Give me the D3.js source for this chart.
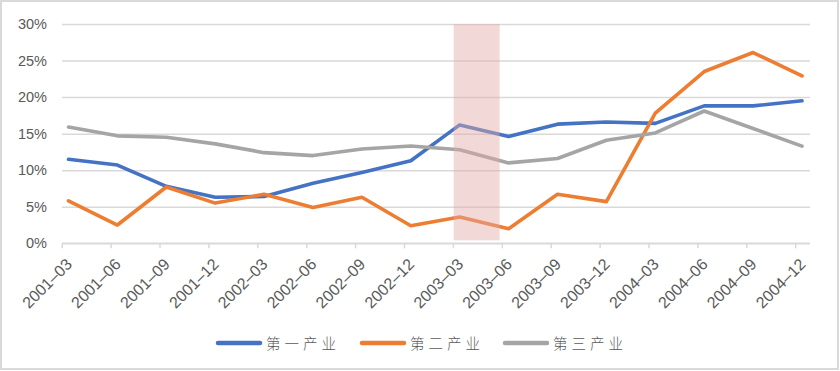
<!DOCTYPE html>
<html><head><meta charset="utf-8">
<script src="https://cdn.jsdelivr.net/npm/d3@7"></script>
<style>html,body{margin:0;padding:0;background:#fff;}svg{display:block;}</style>
</head><body>
<svg id="c" width="840" height="371"></svg>
<script>
const categories = ["2001–03","2001–06","2001–09","2001–12","2002–03","2002–06","2002–09","2002–12","2003–03","2003–06","2003–09","2003–12","2004–03","2004–06","2004–09","2004–12"];
const seriesNames = ["第一产业","第二产业","第三产业"];
const primary   = [11.5,10.7,7.8,6.3,6.4,8.2,9.7,11.3,16.2,14.6,16.3,16.6,16.4,18.8,18.8,19.5];
const secondary = [5.8,2.5,7.7,5.5,6.7,4.9,6.3,2.4,3.6,2.0,6.7,5.7,17.8,23.5,26.1,22.9];
const tertiary  = [15.9,14.7,14.5,13.6,12.4,12.0,12.9,13.3,12.8,11.0,11.6,14.1,15.1,18.1,15.7,13.3];
const yTicks = [0,5,10,15,20,25,30];
const highlight = ["2003–03","2003–06"];
const colors = ["#4472c4","#ed7d31","#a5a5a5"];

const svg = d3.select("#c");
// outer frame
svg.append("rect").attr("x",1).attr("y",1).attr("width",837).attr("height",368)
  .attr("fill","#fff").attr("stroke","#d9d9d9").attr("stroke-width",2);

const x = d3.scalePoint().domain(categories).range([68.5, 802]);
const y = d3.scaleLinear().domain([0,30]).range([243.3, 24]);
const tickOff = -6.8;

// gridlines
const yAxis = d3.axisLeft(y).tickValues(yTicks).tickFormat(d => d + "%").tickSize(-(810-62)).tickPadding(14);
const gy = svg.append("g").attr("transform","translate(62,0)").call(yAxis);
gy.select(".domain").remove();
gy.selectAll(".tick line").attr("stroke","#d9d9d9").attr("stroke-width",1.5);
gy.selectAll(".tick text").attr("fill","#595959").style("font-family","Liberation Sans, Arial, sans-serif").style("font-size","14.5px").attr("x",-15);

// x axis
const gx = svg.append("g").attr("transform","translate(0," + y(0) + ")");
gx.append("line").attr("x1",62).attr("x2",810).attr("y1",0).attr("y2",0).attr("stroke","#d9d9d9").attr("stroke-width",1.5);
const xAxis = d3.axisBottom(x).tickSize(5).tickSizeOuter(0).tickPadding(6);
gx.call(xAxis);
gx.select(".domain").remove();
gx.selectAll(".tick line").attr("stroke","#d9d9d9").attr("stroke-width",1.5).attr("transform","translate(" + tickOff + ",0)");
gx.selectAll(".tick text")
  .attr("fill","#595959").style("font-family","Liberation Sans, Arial, sans-serif").style("font-size","16px")
  .attr("text-anchor","end").attr("dy",null).attr("y",0)
  .attr("transform","translate(4,22) rotate(-45)");

// lines
const data = [primary, secondary, tertiary];
const line = d3.line().x((d,i) => x(categories[i])).y(d => y(d));
data.forEach((s,k) => {
  svg.append("path").datum(s).attr("d", line).attr("fill","none")
    .attr("stroke", colors[k]).attr("stroke-width",3.6).attr("stroke-linejoin","round").attr("stroke-linecap","round");
});

// highlight band (drawn over lines, semi-transparent)
svg.append("rect")
  .attr("x", x(highlight[0]) - 6).attr("y", y(30))
  .attr("width", x(highlight[1]) - x(highlight[0]) - 3)
  .attr("height", y(0) - y(30) - 3)
  .attr("fill", "rgba(226,170,168,0.45)");

// legend
const legX = [218, 362, 505];
seriesNames.forEach((n,k) => {
  const g = svg.append("g").attr("transform","translate(" + legX[k] + ",343)");
  g.append("line").attr("x1",0).attr("x2",42).attr("y1",0).attr("y2",0)
    .attr("stroke",colors[k]).attr("stroke-width",4.5).attr("stroke-linecap","round");
  g.append("text").attr("x",48).attr("y",6).text(n)
    .attr("fill","#595959").style("font-family","Noto Sans CJK SC, sans-serif").style("font-size","14.5px")
    .style("letter-spacing","4px").style("font-weight","300");
});
</script>
</body></html>
